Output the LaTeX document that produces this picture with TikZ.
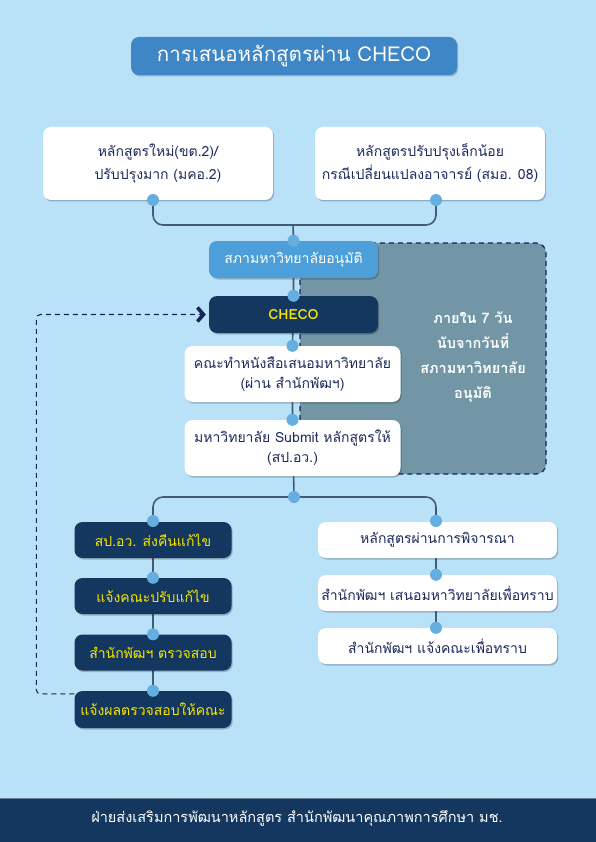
\documentclass[tikz,border=0pt]{standalone}
\usepackage{fontspec}
\setmainfont[Script=Thai]{Loma}
\usetikzlibrary{arrows.meta,shadows}
\definecolor{PageBlue}{HTML}{B9E1F7}
\definecolor{TitleBlue}{HTML}{3F86C7}
\definecolor{CouncilBlue}{HTML}{4C9FD8}
\definecolor{DeepNavy}{HTML}{13375E}
\definecolor{PanelSlate}{HTML}{7296A5}
\definecolor{DotBlue}{HTML}{64AEE0}
\definecolor{LinkSlate}{HTML}{435C74}
\definecolor{CheYellow}{HTML}{F7E600}
\definecolor{InkNavy}{HTML}{1C2A5C}
\definecolor{DashNavy}{HTML}{17235A}
\pgfdeclarelayer{bg}
\pgfdeclarelayer{links}
\pgfsetlayers{bg,links,main}

\begin{document}
\begin{tikzpicture}[
  x=1pt, y=-1pt, font=\fontsize{14}{20}\selectfont,
  card/.style={fill=white,text=InkNavy,rounded corners=8pt,align=center,inner sep=2pt,
               drop shadow={shadow xshift=1.2pt,shadow yshift=-1.5pt,opacity=0.22,fill=black}},
  navycard/.style={card,fill=DeepNavy,text=CheYellow},
  dot/.style={circle,fill=DotBlue,inner sep=0pt,minimum size=12pt},
  link/.style={draw=LinkSlate,line width=1.6pt},
  backloop/.style={draw=DashNavy,line width=1.1pt,dash pattern=on 5pt off 4pt,rounded corners=4pt,
               -{Straight Barb[length=6pt,width=14pt,line width=3.6pt]}},
]
\useasboundingbox (0,0) rectangle (596,842);
\begin{pgfonlayer}{bg}
\fill[PageBlue] (0,0) rectangle (596,842);
% 7-day window
\draw[fill=PanelSlate,draw=DashNavy,line width=1.2pt,dash pattern=on 5pt off 4pt,rounded corners=10pt]
  (300,243) rectangle (546,474);
\end{pgfonlayer}

% footer
\fill[DeepNavy] (0,798) rectangle (596,842);
\draw[LinkSlate!80,line width=1pt] (0,798.5) -- (596,798.5);
\node[text=white,font=\fontsize{14.5}{16}\selectfont] (foot) at (297,818)
  {ฝ่ายส่งเสริมการพัฒนาหลักสูตร สำนักพัฒนาคุณภาพการศึกษา มช.};

% title
\node[card,fill=TitleBlue,text=white,minimum width=326,minimum height=38,
      font=\fontsize{20.5}{22}\selectfont] (title) at (294,56) {การเสนอหลักสูตรผ่าน CHECO};

\node[text=white,align=center,font=\bfseries\fontsize{14.5}{25}\selectfont] (window) at (473,357)
  {ภายใน 7 วัน\\นับจากวันที่\\สภามหาวิทยาลัย\\อนุมัติ};

% junction points
\coordinate (topjoin) at (293,225);

% boxes
\node[card,minimum width=230,minimum height=73,font=\fontsize{14}{23}\selectfont] (newcur) at (158,163.5)
  {หลักสูตรใหม่(ขต.2)/\\ปรับปรุงมาก (มคอ.2)};
\node[card,minimum width=230,minimum height=73,font=\fontsize{14}{23}\selectfont] (minor) at (430,163.5)
  {หลักสูตรปรับปรุงเล็กน้อย\\กรณีเปลี่ยนแปลงอาจารย์ (สมอ. 08)};
\node[card,fill=CouncilBlue,text=white,minimum width=169,minimum height=37] (council) at (293.5,259.5)
  {สภามหาวิทยาลัยอนุมัติ};
\node[navycard,minimum width=169,minimum height=37,font=\bfseries\fontsize{14}{16}\selectfont] (checo) at (293.5,314.5)
  {CHECO};
\node[card,minimum width=216,minimum height=56] (faculty) at (292.5,374)
  {คณะทำหนังสือเสนอมหาวิทยาลัย\\(ผ่าน สำนักพัฒฯ)};
\node[card,minimum width=216,minimum height=56] (submit) at (292.5,448)
  {มหาวิทยาลัย Submit หลักสูตรให้\\(สป.อว.)};

\node[navycard,minimum width=157,minimum height=36] (returned) at (153,540) {สป.อว. ส่งคืนแก้ไข};
\node[navycard,minimum width=157,minimum height=36] (revise)   at (153,596) {แจ้งคณะปรับแก้ไข};
\node[navycard,minimum width=157,minimum height=36] (check)    at (153,652.5) {สำนักพัฒฯ ตรวจสอบ};
\node[navycard,minimum width=157,minimum height=37] (inform)   at (153,709.5) {แจ้งผลตรวจสอบให้คณะ};

\node[card,minimum width=239,minimum height=36] (passed) at (437.5,540) {หลักสูตรผ่านการพิจารณา};
\node[card,minimum width=239,minimum height=36] (notify) at (437.5,593) {สำนักพัฒฯ เสนอมหาวิทยาลัยเพื่อทราบ};
\node[card,minimum width=239,minimum height=36] (tellfac) at (437.5,646) {สำนักพัฒฯ แจ้งคณะเพื่อทราบ};

% dots on the boxes
\node[dot] (dnew)     at (153,200) {};
\node[dot] (dminor)   at (436,200) {};
\node[dot] (dcouncil) at (council.north) {};
\node[dot] (dcheco)   at (checo.north) {};
\node[dot] (dfaculty) at (faculty.north) {};
\node[dot] (dsubmit)  at (submit.north) {};
\node[dot] (midjoin)  at (294,497) {};
\node[dot] (dreturn)  at (153,521) {};
\node[dot] (drevise)  at (revise.north) {};
\node[dot] (dcheck)   at (check.north) {};
\node[dot] (dinform)  at (inform.north) {};
\node[dot] (dpassed)  at (436,521) {};
\node[dot] (dnotify)  at (notify.north -| dpassed) {};
\node[dot] (dtell)    at (tellfac.north -| dpassed) {};

% connectors
\begin{pgfonlayer}{links}
\draw[link,rounded corners=10pt] (dnew.center) |- (topjoin) -| (dminor.center);
\draw[link] (topjoin) -- (dcouncil.center);
\draw[link] (dcouncil.center) -- (dcheco.center) -- (dfaculty.center) -- (dsubmit.center) -- (midjoin.center);
\draw[link,rounded corners=10pt] (dreturn.center) |- (midjoin.center) -| (dpassed.center);
\draw[link] (dreturn.center) -- (drevise.center) -- (dcheck.center) -- (dinform.center);
\draw[link] (dpassed.center) -- (dnotify.center) -- (dtell.center);
\end{pgfonlayer}
\draw[backloop] ([yshift=-3pt]inform.north west) -- ++(-38,0) |- ([xshift=-3pt]checo.west);
\end{tikzpicture}
\end{document}
